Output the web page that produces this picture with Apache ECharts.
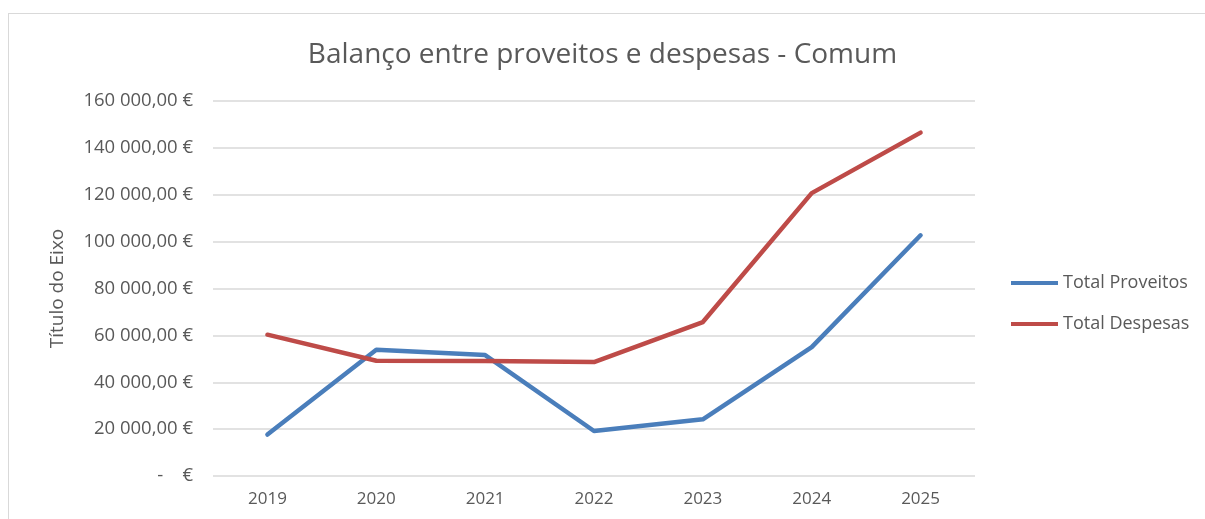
<!DOCTYPE html>
<html>
<head>
<meta charset="utf-8">
<script src="https://cdn.jsdelivr.net/npm/echarts@6/dist/echarts.min.js"></script>
<style>
  html, body { margin: 0; padding: 0; background: #fff; }
  #frame { position: absolute; left: 8px; top: 13px; width: 1205px; height: 520px; border: 1px solid #d9d9d9; box-sizing: border-box; }
  #chart { position: absolute; left: 0; top: 0; width: 1205px; height: 519px; }
</style>
</head>
<body>
<div id="frame"></div>
<div id="chart"></div>
<script>
const years = ['2019', '2020', '2021', '2022', '2023', '2024', '2025']
const proveitos = [17700, 53900, 51600, 19200, 24200, 55000, 102700]
const despesas = [60300, 49200, 49100, 48600, 65700, 120700, 146500]
const yTicks = [0, 20000, 40000, 60000, 80000, 100000, 120000, 140000, 160000]

const textColor = '#595959'
const font = 'Open Sans'

function euro(v) {
    if (v === 0) return '-    €'
    const s = Math.round(v).toString().replace(/\B(?=(\d{3})+(?!\d))/g, ' ')
    return s + ',00 €'
}

const chart = echarts.init(document.getElementById('chart'), null, { renderer: 'canvas' })

const option = {
    backgroundColor: 'transparent',
    title: {
        text: 'Balanço entre proveitos e despesas - Comum',
        left: 'center',
        top: 36,
        textStyle: { fontFamily: font, fontSize: 28, fontWeight: 'normal', color: textColor }
    },
    legend: {
        orient: 'vertical',
        left: 1006,
        top: 269,
        icon: 'rect',
        itemWidth: 47,
        itemHeight: 4,
        itemGap: 23,
        textStyle: { fontFamily: font, fontSize: 18, color: textColor },
        data: ['Total Proveitos', 'Total Despesas']
    },
    grid: { left: 213, right: 230, top: 101, bottom: 43 },
    xAxis: {
        type: 'category',
        data: years,
        boundaryGap: true,
        axisLine: { show: false },
        axisTick: { show: false },
        axisLabel: { fontFamily: font, fontSize: 17, color: textColor, margin: 15 }
    },
    yAxis: {
        type: 'value',
        min: yTicks[0],
        max: yTicks[yTicks.length - 1],
        interval: yTicks[1] - yTicks[0],
        name: 'Título do Eixo',
        nameLocation: 'middle',
        nameGap: 146,
        nameTextStyle: { fontFamily: font, fontSize: 19, color: textColor },
        axisLine: { show: false },
        axisTick: { show: false },
        axisLabel: { fontFamily: font, fontSize: 18.5, color: textColor, margin: 20, formatter: euro },
        splitLine: { lineStyle: { color: '#d9d9d9', width: 1.5 } }
    },
    series: [{
        name: 'Total Proveitos',
        type: 'line',
        data: proveitos,
        symbol: 'none',
        color: '#4a7ebb',
        lineStyle: { width: 4.5, cap: 'round', join: 'round' }
    }, {
        name: 'Total Despesas',
        type: 'line',
        data: despesas,
        symbol: 'none',
        color: '#be4b48',
        lineStyle: { width: 4.5, cap: 'round', join: 'round' }
    }]
}

chart.setOption(option)
</script>
</body>
</html>
